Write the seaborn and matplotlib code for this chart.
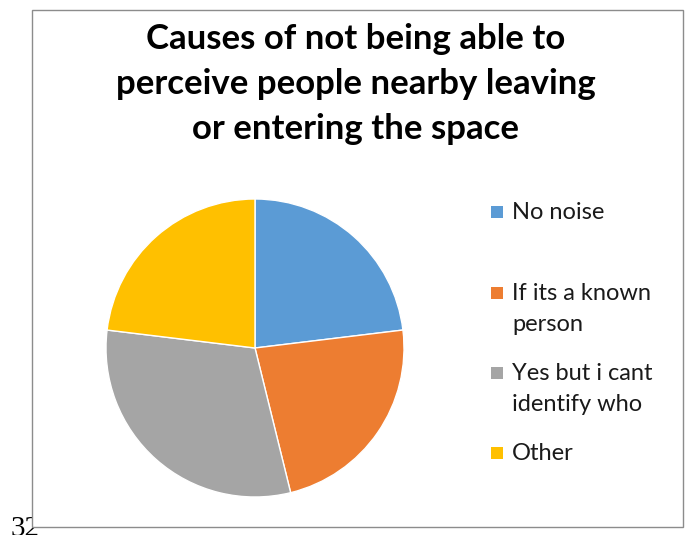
import matplotlib
matplotlib.use("Agg")
import matplotlib.pyplot as plt
import seaborn as sns
from matplotlib.patches import Rectangle

categories = ["No noise", "If its a known\nperson", "Yes but i cant\nidentify who", "Other"]
values = [3, 3, 4, 3]
colors = ["#5B9BD5", "#ED7D31", "#A5A5A5", "#FFC000"]
title = "Causes of not being able to\nperceive people nearby leaving\nor entering the space"

sns.set_theme(style="white")
plt.rcParams["font.family"] = ["Lato", "DejaVu Sans"]

W, H = 688, 535
fig = plt.figure(figsize=(W / 100, H / 100), dpi=100)

def fx(px):
    return px / W

def fy(py):
    return 1 - py / H

# page number fragment behind frame
fig.text(fx(11), fy(516), "32", fontsize=21, family="Liberation Serif", va="top", ha="left",
         color="black", zorder=0)

# chart frame
fig.patches.append(Rectangle((fx(32), fy(527)), fx(683) - fx(32), fy(10) - fy(527),
                             transform=fig.transFigure, facecolor="white",
                             edgecolor="#8c8c8c", linewidth=1.0, zorder=1))

# pie
cx, cy, r = 255, 348, 149
ax = fig.add_axes([fx(cx - r), fy(cy + r), fx(2 * r), (2 * r) / H], zorder=2)
ax.pie(values, colors=colors, startangle=90, counterclock=False,
       wedgeprops=dict(edgecolor="white", linewidth=1.0), radius=1.0)
ax.set_xlim(-1, 1)
ax.set_ylim(-1, 1)
ax.set_aspect("equal")
ax.axis("off")

# title
fig.text(fx(356), fy(84), title, ha="center", va="center", fontsize=25, fontweight="bold",
         linespacing=1.5, color="black", zorder=3)

# legend
leg_y = [212, 293, 373, 453]
for lab, col, y in zip(categories, colors, leg_y):
    s = 12
    fig.patches.append(Rectangle((fx(491), fy(y + s / 2)), fx(s), s / H,
                                 transform=fig.transFigure, facecolor=col,
                                 edgecolor="none", zorder=3))
    fig.text(fx(512), fy(y - 10), lab, ha="left", va="top", fontsize=17,
             linespacing=1.6, color="#1a1a1a", zorder=3)

fig.savefig("out.png", dpi=100)
